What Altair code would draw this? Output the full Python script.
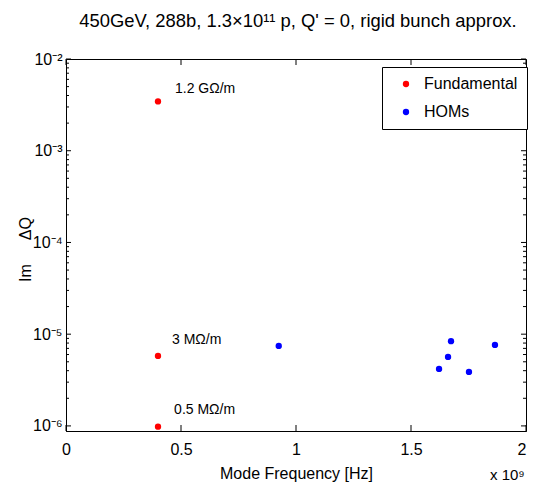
import math
import altair as alt
import pandas as pd

# ---------------- data (frequencies in units of 1e9 Hz) ----------------
fund_freq = [0.4, 0.4, 0.4]
fund_dq = [3.45e-3, 5.8e-6, 9.8e-7]
fund_labels = ["1.2 GΩ/m", "3 MΩ/m", "0.5 MΩ/m"]
label_freq = [0.474, 0.461, 0.47]
label_dq = [4.7e-3, 8.65e-6, 1.49e-6]

hom_freq = [0.925, 1.622, 1.661, 1.674, 1.752, 1.865]
hom_dq = [7.45e-6, 4.18e-6, 5.65e-6, 8.4e-6, 3.88e-6, 7.64e-6]

series_names = ["Fundamental", "HOMs"]
series_colors = ["#ff0000", "#0000ff"]

x_ticks = [0, 0.5, 1, 1.5, 2]
y_ticks = [1e-6, 1e-5, 1e-4, 1e-3, 1e-2]
y_tick_labels = ["10⁻⁶", "10⁻⁵", "10⁻⁴", "10⁻³", "10⁻²"]
y_minor = [m * 10.0 ** e for e in range(-6, -2) for m in range(2, 10)]

title_text = "450GeV, 288b, 1.3×10¹¹ p, Q' = 0, rigid bunch approx."
x_title = "Mode Frequency [Hz]"
y_title = "Im\u2003\u2002ΔQ"
x_multiplier = "x 10⁹"

FONT = "Liberation Sans"
W, H = 460, 372

xs = alt.Scale(domain=[0, 2], nice=False, zero=False)
ys = alt.Scale(type="log", domain=[8.8e-7, 1e-2], nice=False)

ylab_expr = ""
for v, lab in zip(y_ticks, y_tick_labels):
    ylab_expr += f"abs(log(datum.value)/LN10 - ({round(math.log10(v))})) < 0.01 ? '{lab}' : "
ylab_expr += "''"

x_axis = alt.Axis(
    values=x_ticks, title=x_title, ticks=False, grid=False,
    labelExpr="format(datum.value, '~g')", labelFontSize=16, labelPadding=10,
    labelAlign=alt.ExprRef(expr=f"datum.value >= {x_ticks[-1]} ? 'right' : 'center'"),
    titleFontSize=16, titleFontWeight="normal", titleX=W / 2, titleY=42,
    titleBaseline="middle", labelFlush=False)
y_axis = alt.Axis(
    values=y_ticks, title=y_title, ticks=False, grid=False,
    labelExpr=ylab_expr, labelFontSize=16, labelPadding=4,
    titleFontSize=16, titleFontWeight="normal", titleX=-41, titleY=H / 2 + 4,
    titleAlign="center", titleBaseline="middle", labelFlush=False)

pts = pd.DataFrame({
    "f": fund_freq + hom_freq,
    "dq": fund_dq + hom_dq,
    "type": [series_names[0]] * len(fund_freq) + [series_names[1]] * len(hom_freq),
})

points = alt.Chart(pts).mark_circle(size=40, opacity=1).encode(
    x=alt.X("f:Q", scale=xs, axis=x_axis),
    y=alt.Y("dq:Q", scale=ys, axis=y_axis),
    color=alt.Color("type:N", scale=alt.Scale(domain=series_names, range=series_colors),
                    legend=alt.Legend(title=None, orient="none", legendX=316, legendY=8,
                                      symbolType="circle", symbolSize=40, symbolOffset=7,
                                      labelOffset=10, labelFontSize=16, labelFont=FONT,
                                      rowPadding=12, padding=9, fillColor="white",
                                      strokeColor="black", symbolStrokeWidth=0)),
)

lab_df = pd.DataFrame({"f": label_freq, "dq": label_dq, "t": fund_labels})
labels = alt.Chart(lab_df).mark_text(align="left", baseline="middle", fontSize=14, font=FONT,
                                     color="black").encode(
    x=alt.X("f:Q", scale=xs, axis=x_axis), y=alt.Y("dq:Q", scale=ys, axis=y_axis), text="t:N")

ymaj = pd.DataFrame({"dq": y_ticks})
ymin = pd.DataFrame({"dq": y_minor})
xt = pd.DataFrame({"f": x_ticks})

def yrule(df, x0, x1):
    return alt.Chart(df).mark_rule(color="black", strokeWidth=1).encode(
        y=alt.Y("dq:Q", scale=ys, axis=y_axis), x=alt.value(x0), x2=alt.value(x1))

def xrule(df, y0, y1):
    return alt.Chart(df).mark_rule(color="black", strokeWidth=1).encode(
        x=alt.X("f:Q", scale=xs, axis=x_axis), y=alt.value(y0), y2=alt.value(y1))

ticks = [
    yrule(ymaj, 0, 5), yrule(ymaj, W - 5, W),
    yrule(ymin, 0, 3), yrule(ymin, W - 3, W),
    xrule(xt, H - 6, H), xrule(xt, 0, 6),
]

title = alt.Chart(pd.DataFrame({"t": [title_text]})).mark_text(
    fontSize=18.4, font=FONT, color="black", align="center", baseline="middle").encode(
    x=alt.value(W / 2 + 2), y=alt.value(-38), text="t:N")

mult = alt.Chart(pd.DataFrame({"t": [x_multiplier]})).mark_text(
    fontSize=15, font=FONT, color="black", align="left", baseline="alphabetic").encode(
    x=alt.value(W - 36), y=alt.value(H + 49), text="t:N")

chart = alt.layer(points, labels, *ticks, title, mult).properties(
    width=W, height=H, autosize="none",
    padding={"left": 58, "top": 51, "right": 3, "bottom": 51},
).configure_view(stroke="black", strokeWidth=1).configure_axis(
    labelFont=FONT, titleFont=FONT, labelColor="black", titleColor="black",
    domainColor="black", domainWidth=1)

chart.save("out.html", embed_options={"renderer": "svg", "actions": False})
